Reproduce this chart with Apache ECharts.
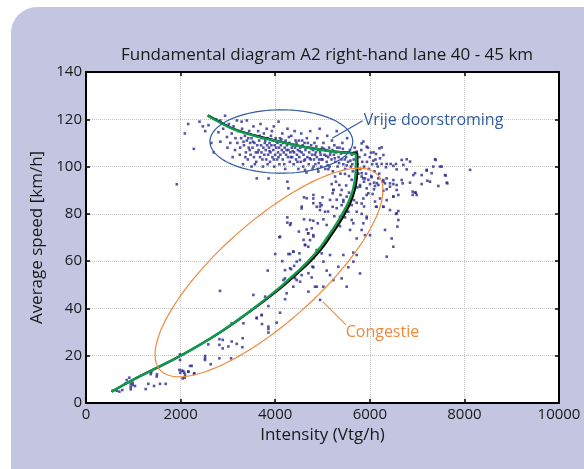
<!DOCTYPE html>
<html><head><meta charset="utf-8">
<script src="https://cdn.jsdelivr.net/npm/echarts@6/dist/echarts.min.js"></script>
<style>html,body{margin:0;padding:0;background:#fff}#c{width:584px;height:469px}</style>
</head><body><div id="c"></div>
<script>
// ---- axis ticks ----
const xTicks = [0, 2000, 4000, 6000, 8000, 10000];
const yTicks = [0, 20, 40, 60, 80, 100, 120, 140];

// ---- measurements: [intensity (veh/h), average speed (km/h)] ----
const freeFlowPoints = [
[1920,92.5],[2090,114],[2160,118],[2280,107.5],[2400,119],[2470,117],[2520,115],[2590,117.5],[2650,110],[2700,106],[2750,120],[2800,114.5],[2840,110.5],[2840,119.5],[2900,116],[2940,121.5],[2980,112.5],[2990,108],[3020,118],
[3050,110],[3080,114],[3100,104],[3120,117],[3150,107],[3160,112],[3190,119.5],[3200,110],[3220,115],[3250,105],[3260,108],[3280,112],[3290,119],[3300,116],[3320,101],[3340,109],[3360,113],[3380,106],[3400,119.5],[3400,111],[3420,103],[3440,108],[3450,115],[3470,110],[3480,105],[3500,112],[3500,100],
[3520,108],[3540,117],[3550,104],[3560,110],[3580,113],[3590,106],[3600,102],[3610,95],[3620,109],[3640,115],[3650,107],[3660,111],[3680,104],[3690,118],[3700,109],[3710,106],[3720,112],[3740,100],[3750,108],[3760,114],[3770,105],[3780,110],[3800,107],[3810,103],[3820,116],[3830,109],[3840,112],[3850,105],[3860,95],[3870,108],[3880,110],[3890,102],[3900,106],[3910,113],[3920,109],[3940,104],[3950,111],[3960,107],[3970,117],[3980,100],[3990,109],
[4000,105],[4010,112],[4020,108],[4040,103],[4050,110],[4060,106],[4070,119],[4080,108],[4090,101],[4100,112],[4110,105],[4120,109],[4140,107],[4150,114],[4160,103],[4170,110],[4180,106],[4200,108],[4210,99],[4220,111],[4230,105],[4250,109],[4260,116],[4270,104],[4280,107],[4300,110],[4310,102],[4320,106],[4340,113],[4350,108],[4360,104],[4380,109],[4390,101],[4400,106],[4410,115],[4420,108],[4440,103],[4450,110],[4460,105],[4480,107],[4490,99],[4500,111],
[4510,104],[4530,108],[4540,102],[4550,114],[4560,106],[4580,109],[4590,100],[4600,105],[4620,110],[4630,103],[4640,107],[4660,97.5],[4670,112],[4680,104],[4700,108],[4710,101],[4720,106],[4740,115],[4750,103],[4760,109],[4780,105],[4790,99],[4800,107],[4820,103],[4830,110],[4850,101],[4860,106],[4880,104],[4890,112],[4900,99],[4910,107],[4930,103],[4940,116],[4960,105],[4970,100],[4990,108],
[5000,103],[5020,110],[5040,105],[5060,99],[5070,107],[5090,102],[5100,113],[5120,104],[5140,108],[5150,100],[5170,106],[5190,103],[5200,111],[5220,98],[5240,105],[5250,109],[5270,102],[5290,106],[5300,115],[5320,100],[5340,104],[5360,108],[5380,97],[5400,103],[5420,110],[5440,101],[5460,106],[5480,99],[5500,104],[5520,112],[5540,102],[5560,96],[5580,107],[5600,100],[5620,105],[5640,98],[5660,103],[5680,108],
[5265,95.8],[5476,96.9],[5617,94.4],[5829,95.8],[5970,94.4],[4912,97.9],[4630,98.6],[5124,98.9],
[3330,110.5],[3370,104],[3430,112],[3460,107],[3530,110.5],[3570,101],[3630,106],[3670,113],[3730,103],[3790,111],[3840,101],[3880,106.5],[3930,115],[3970,103],[4030,110.5],[4070,104],[4130,111.5],[4190,101],[4240,107],[4290,112.5],[4330,104],[4370,106.5],[4430,111],[4470,102],[4520,106.5],[4570,111],[4610,102.5],[4650,108],[4690,110],[4730,103.5],[4770,107.5],[4810,100],[4840,105],[4870,108.5],[4920,101.5],[4950,106],[4980,103],[5030,107.5],[5080,104.5],[5110,100.5],[5160,105],[5210,107],[5260,103.5],[5310,108],[5350,101.5],[5390,105.5],[5430,107.5],[5470,103],[5510,100.5],[5550,106],[5590,102.5],[5630,101],[5670,106]
];
const capacityPoints = [
[5720,106],[5740,101],[5760,97],[5780,104],[5800,99],[5820,107],[5840,102],[5860,95],[5880,100],[5900,105],[5920,97],[5940,102],[5960,108],[5980,99],[6000,104],[6030,96],[6050,101],[6080,106],[6100,98],[6120,103],[6150,93],[6170,100],[6200,97],
[5828,109.8],[5864,110.6],[5934,108.4],[5723,106.3],[6202,107.7],[6287,104.9],[6674,102.8],[6780,103.1],[6851,102.1],[7203,98.6],[7379,103.1],[7485,100],[7605,96.2],[7626,93.2],[8120,98.6],[6956,89],[6992,88],
[6251,108.1],[6025,105.9],[6131,105.3],[6216,103.5],[6075,102.5],[6145,101.1],[6251,101.1],[6357,101.1],[6342,99.7],[6441,101.1],[6498,100.3],[6554,101.1],[6568,98.8],[6709,100.7],[6780,98.8],[6956,97.2],[6920,96.4],[7097,96.4],[7203,98.3],[7308,97.2],[7343,100],[7393,102.8],[7520,100],[7590,96.4],[7640,92.9],[7449,91.8],[7273,93.6],[7217,94],[7097,92.6],[6850,93.2],[6695,92.9],[6674,94.3],[6568,92.2],[6498,94.3],[6427,92.9],[6357,95],[6321,92.9],[6286,94.3],[6180,95],[6089,93.2],[6906,89.4],[6970,89],[6906,88],[6286,89.8],[6357,90.4],[6060,88.4],[6498,87.3],[6131,83],[6286,83],[6603,81.2],[6554,80],[6089,90.4]
];
const congestedPoints = [
[5828,97.2],[5899,95],[5793,91.5],[6040,95.5],[5969,88.7],[6110,85.2],[5878,83.1],[5828,80],[5934,78.8],[5723,80.9],[5617,77.4],[5441,85.9],[5370,78.8],[5546,80.9],[5229,90.1],[5159,85.9],[4947,83.1],[4806,84.5],[5300,82.4],
[4258,93.6],[4279,90.8],[4329,76],[4315,75.3],[4561,83.1],[4667,86.6],[4808,88],[4878,83],[4949,84.5],[4738,77.4],[4773,73.9],[4103,70.4],
[5194,92.6],[5285,93.6],[5356,92.2],[5229,90.1],[5215,88.7],[5405,90.1],[5511,87.3],[5687,92.9],[5737,91.2],[5793,92.2],[5878,93.6],[5934,90.8],[6005,92.6],[6110,91.8],[6181,92.2],[6287,93.6],[6427,91.5],[6498,92.6],[6569,90.1],[6604,88],[6498,87.3],[6357,85.8],[6216,86.5],[5934,88],[5864,86.5],[5828,84.4],[5723,84.7],[5666,85.8],[5617,83.7],[5441,85.1],[5405,83.7],[5215,83],[4982,83.7],[4947,81.6],[5053,80.9],[4806,86.5],[4609,87],[4559,82.3],
[4256,76.3],[4256,78.5],[4609,77.7],[4806,77.1],[5018,77.7],[5194,72.4],[5088,75.3],[5370,74.8],[5476,78.5],[5582,73.2],[5652,76],[5934,78.1],[5864,76],[5828,73.2],[5899,71],[5723,69.6],[6005,71],[6145,83],[6287,83],[6427,81.6],[6569,80.2],[6604,77.4],[6322,73.2],[6463,69.6],[6583,74.6],[6498,66.1],[6357,61.9],[5652,63.6],[5441,62.6],[5159,62.6],[4982,63.3],[4877,64.7],[4700,66.1],[4630,66.8],[4383,64],[4313,63],[4806,71],[4736,68.9],[4665,73.4],[4700,71.7],[4524,60.5],[4454,59.8],[4313,57],[4207,56.2],[4207,52.7],[4454,52],[4559,54.1],[4771,53.1],[4806,57.4],[5018,59.8],[5088,56],[5159,54.1],[5229,52],[5335,57.6],[5405,52.7],[5546,57.4],[5652,59.8],[5723,62.6],[5793,54.8],[5511,49.2],[5018,49.2],[4841,49.2],[4383,49.2],[4242,46.4],
[5500,92],[5560,89],[5600,86],[5480,81],[5380,88],[5300,86],[5250,79],[5120,81],[5000,87],[4900,76],[4600,69],[4500,72.5],[4400,58],[4150,60],[4000,63],
[4089,70.1],[2834,47.4],[3842,56],[3539,45.7],[3786,45],[3856,41],[3610,35.8],[3715,37.2],[3328,33.7],[3081,33.7],[3856,32.3],[3856,31.3],[3856,29.8],[4032,34],[4103,38.2],[4209,43.9],[4174,52],[4336,56.6],[4420,52.8],[4526,51.3],[4279,63],[4385,64],[4512,63.3],[4632,66.9],[4695,71.8],[4808,70.4],[4702,47.1],[4879,49.2],[4949,43.6],[4808,61.2],[4787,57.7],[4702,54.9],
[3313,27.4],[3187,25],[3081,26],[3010,23.9],[2890,23.1],[2820,27],[2890,26.7],[2820,24.6],[2820,18.9],[2517,19.9],[2517,18.9],[2637,16.4],[3067,18.9],[3306,23.6],[2516,18.2],[2586,24.8],[3721,33.4],[3608,36.1],[3714,37.2],
[1988,18.2],[1974,14],[2023,13.7],[2094,11.9],[2164,13.3],[2200,15.7],[2235,15.7],[2284,12.3],[1987,20.6],[2057,13.5],[2163,13.2],[1994,12.8],[2078,12.8],[2290,12.6],[2044,10.4],[2086,10.7],
[1495,11.2],[1368,12.2],[1318,8.1],[1438,7.2],[1565,8.1],[1685,8.1],[1262,5.9],[1036,7.2],[987,8.6],[987,7.6],[945,8.1],[945,6.9],[945,5.8],[860,9.7],[839,8.3],[917,10.7],[768,5.5],[705,4.8],[649,5.2],[564,5.2],[1381,13],[1501,12.1]
];

// ---- fitted fundamental diagram (green) and the black reference fit beneath it ----
const freeFlowFit = [[2573,121.5],[3115,115.8],[3600,112.8],[4101,110.5],[4524,108.6],[5089,106.7],[5476,105.9],[5708,105.3]];
const congestedFit = [[543,4.8],[1010,10],[1510,15],[2000,20],[2440,25],[2840,30],[3200,35],[3540,40],[3860,45],[4160,50],[4440,55],[4700,60],[4920,65],[5100,70],[5270,75],[5420,80],[5550,85],[5640,90],[5690,95],[5706,100],[5708,105.3]];
const blackFreeFlowFit = [[2573,121.7],[3115,116],[3600,113],[4101,110.6],[4524,108.7],[5089,106.8],[5476,106.0],[5735,105.6]];
const blackCongestedFit = [[543,4.8],[1010,10],[1510,15],[2000,20],[2440,25],[2845,30],[3210,35],[3555,40],[3885,45],[4195,50],[4480,55],[4745,60],[4970,65],[5150,70],[5320,75],[5470,80],[5595,85],[5680,90],[5725,95],[5738,100],[5735,105.6]];

// ---- annotation ellipses: [centre x, centre y, axis A (dx,dy), axis B (dx,dy)] in data units ----
const freeFlowEllipse = [4130, 110.6, 1509, 0, 0, 13.4];
const congestionEllipse = [3869, 55.2, 2304, 41.2, 706, -15.8];
const freeFlowArrow = [[5848,119.4],[5205,112.0]];
const congestionArrow = [[5497,33.0],[5004,42.9]];
const freeFlowLabel = [5870,119.6];
const congestionLabel = [5490,30.0];

const BLUE = '#2f5b9f', ORANGE = '#f0883a', FONT = 'Open Sans';

function ellipseSeries(p, color){
  return {type:'custom', data:[p], silent:true, z:5, clip:false,
    renderItem:function(params, api){
      const cx=api.value(0), cy=api.value(1), ax=api.value(2), ay=api.value(3), bx=api.value(4), by=api.value(5);
      const pts=[];
      for(let i=0;i<=120;i++){const t=2*Math.PI*i/120, c=Math.cos(t), s=Math.sin(t);
        pts.push(api.coord([cx+ax*c+bx*s, cy+ay*c+by*s]));}
      return {type:'polyline', shape:{points:pts}, style:{stroke:color, fill:null, lineWidth:1.2}};
    }};
}
const axisLine = {show:true, onZero:false, lineStyle:{color:'#000', width:2}};
const tick = {show:true, inside:true, length:4, lineStyle:{color:'#000', width:1.5}};
const plain = v => String(v);

const chart = echarts.init(document.getElementById('c'), null, {renderer:'canvas'});
chart.setOption({
  animation:false,
  backgroundColor:'#fff',
  graphic:[
    {type:'rect', z:-10, shape:{x:11, y:7, width:620, height:520, r:26}, style:{fill:'#c3c5e1'}},
    {type:'rect', z:-9, shape:{x:86, y:72, width:473, height:331}, style:{fill:'#fff'}},
    {type:'text', z:10, x:327, y:55, style:{text:'Fundamental diagram A2 right-hand lane 40 - 45 km', font:'17px "Open Sans"', fill:'#1a1a1a', textAlign:'center', textVerticalAlign:'middle'}}
  ],
  grid:{left:86, right:25, top:72, bottom:66, show:false},
  xAxis:[
    {type:'value', min:0, max:10000, interval:2000, axisLine:axisLine, axisTick:tick,
     axisLabel:{color:'#1a1a1a', fontSize:15, fontFamily:FONT, margin:4, formatter:plain},
     splitLine:{show:true, lineStyle:{color:'#c4c4c4', type:'dotted', width:1}},
     name:'Intensity (Vtg/h)', nameLocation:'middle', nameGap:24,
     nameTextStyle:{color:'#1a1a1a', fontSize:17, fontFamily:FONT}},
    {type:'value', position:'top', min:0, max:10000, interval:2000, axisLine:axisLine, axisTick:tick,
     axisLabel:{show:false}, splitLine:{show:false}}
  ],
  yAxis:[
    {type:'value', min:0, max:140, interval:20, axisLine:axisLine, axisTick:tick,
     axisLabel:{color:'#1a1a1a', fontSize:15, fontFamily:FONT, margin:4, formatter:plain},
     splitLine:{show:true, lineStyle:{color:'#c4c4c4', type:'dotted', width:1}},
     name:'Average speed [km/h]', nameLocation:'middle', nameGap:40, nameRotate:90,
     nameTextStyle:{color:'#1a1a1a', fontSize:17, fontFamily:FONT}},
    {type:'value', position:'right', min:0, max:140, interval:20, axisLine:axisLine, axisTick:tick,
     axisLabel:{show:false}, splitLine:{show:false}}
  ],
  series:[
    {type:'scatter', data:freeFlowPoints, symbol:'rect', symbolSize:2.6, itemStyle:{color:'#2a2a8e'}, z:2},
    {type:'scatter', data:capacityPoints, symbol:'rect', symbolSize:2.6, itemStyle:{color:'#2a2a8e'}, z:2},
    {type:'scatter', data:congestedPoints, symbol:'rect', symbolSize:2.6, itemStyle:{color:'#2a2a8e'}, z:2},
    {type:'line', data:blackFreeFlowFit, smooth:0.3, showSymbol:false, lineStyle:{color:'#000', width:2.2}, z:3},
    {type:'line', data:blackCongestedFit, smooth:0.4, showSymbol:false, lineStyle:{color:'#000', width:2.2}, z:3},
    {type:'line', data:freeFlowFit, smooth:0.3, showSymbol:false, lineStyle:{color:'#0f9a4c', width:2.4}, z:4},
    {type:'line', data:congestedFit, smooth:0.4, showSymbol:false, lineStyle:{color:'#0f9a4c', width:2.4}, z:4},
    ellipseSeries(freeFlowEllipse, BLUE),
    ellipseSeries(congestionEllipse, ORANGE),
    {type:'scatter', data:[], z:6,
     markLine:{silent:true, symbol:['none','arrow'], symbolSize:[0,7], label:{show:false}, animation:false,
       data:[
         [{coord:freeFlowArrow[0], lineStyle:{color:BLUE, width:1.1, type:'solid'}, itemStyle:{color:BLUE}},{coord:freeFlowArrow[1]}],
         [{coord:congestionArrow[0], lineStyle:{color:ORANGE, width:1.1, type:'solid'}, itemStyle:{color:ORANGE}},{coord:congestionArrow[1]}]
       ]},
     markPoint:{silent:true, symbol:'circle', symbolSize:0, animation:false,
       data:[
         {coord:freeFlowLabel, label:{show:true, position:'right', distance:0, formatter:'Vrije doorstroming', color:BLUE, fontSize:16, fontFamily:FONT}},
         {coord:congestionLabel, label:{show:true, position:'right', distance:0, formatter:'Congestie', color:ORANGE, fontSize:16, fontFamily:FONT}}
       ]}}
  ]
});
</script></body></html>
